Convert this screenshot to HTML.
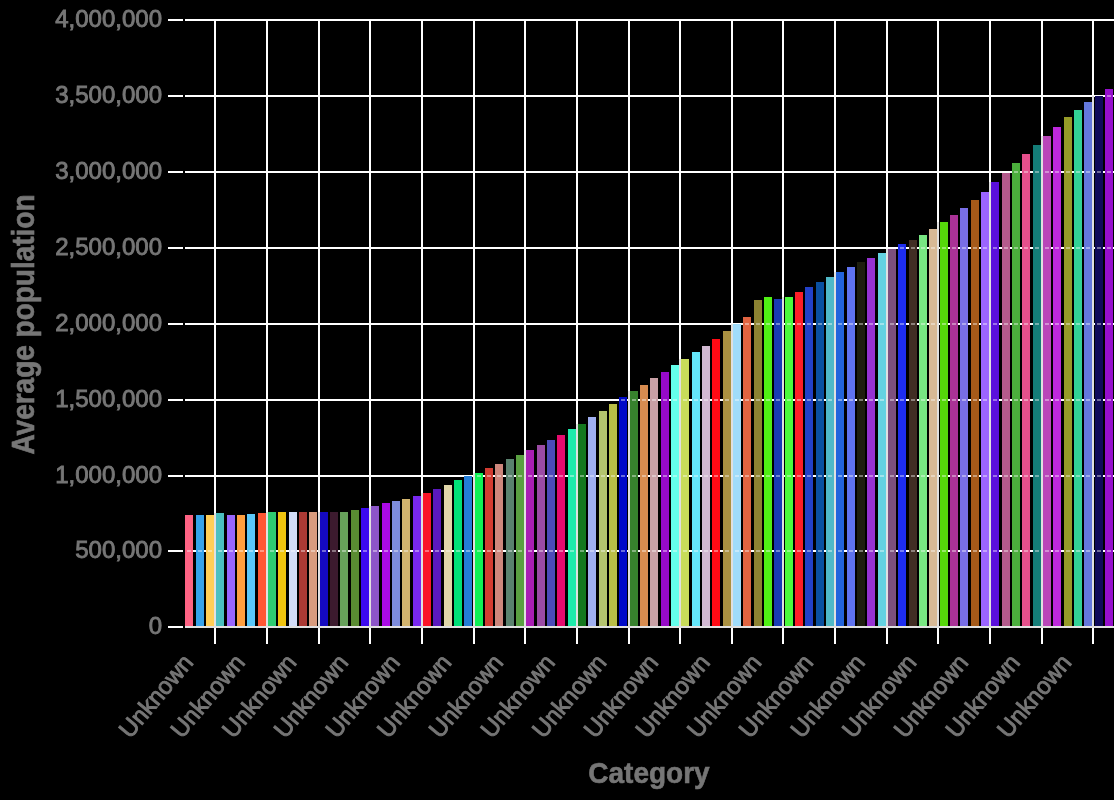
<!DOCTYPE html>
<html><head><meta charset="utf-8"><style>
html,body{margin:0;padding:0;background:#000;}
svg{display:block;}
text{font-family:"Liberation Sans",sans-serif;}
svg{will-change:transform;}
.lb{stroke:#767676;stroke-width:0.9;}
.tt{stroke:#767676;stroke-width:0.6;}
</style></head><body>
<svg width="1114" height="800" viewBox="0 0 1114 800">
<rect x="0" y="0" width="1114" height="800" fill="#000"/>

<rect x="185" y="626" width="929" height="2" fill="#e1e1e1"/>
<rect x="168" y="626" width="15" height="2" fill="#fff"/>
<rect x="185" y="550" width="929" height="2" fill="#ffffff"/>
<rect x="168" y="550" width="15" height="2" fill="#fff"/>
<rect x="185" y="475" width="929" height="2" fill="#ffffff"/>
<rect x="168" y="475" width="15" height="2" fill="#fff"/>
<rect x="185" y="399" width="929" height="2" fill="#ffffff"/>
<rect x="168" y="399" width="15" height="2" fill="#fff"/>
<rect x="185" y="323" width="929" height="2" fill="#ffffff"/>
<rect x="168" y="323" width="15" height="2" fill="#fff"/>
<rect x="185" y="247" width="929" height="2" fill="#ffffff"/>
<rect x="168" y="247" width="15" height="2" fill="#fff"/>
<rect x="185" y="171" width="929" height="2" fill="#ffffff"/>
<rect x="168" y="171" width="15" height="2" fill="#fff"/>
<rect x="185" y="95" width="929" height="2" fill="#ffffff"/>
<rect x="168" y="95" width="15" height="2" fill="#fff"/>
<rect x="185" y="19" width="929" height="2" fill="#ffffff"/>
<rect x="168" y="19" width="15" height="2" fill="#fff"/>
<rect x="214" y="21" width="2" height="605" fill="#fff"/>
<rect x="214" y="628" width="2" height="16" fill="#fff"/>
<rect x="266" y="21" width="2" height="605" fill="#fff"/>
<rect x="266" y="628" width="2" height="16" fill="#fff"/>
<rect x="318" y="21" width="2" height="605" fill="#fff"/>
<rect x="318" y="628" width="2" height="16" fill="#fff"/>
<rect x="369" y="21" width="2" height="605" fill="#fff"/>
<rect x="369" y="628" width="2" height="16" fill="#fff"/>
<rect x="421" y="21" width="2" height="605" fill="#fff"/>
<rect x="421" y="628" width="2" height="16" fill="#fff"/>
<rect x="473" y="21" width="2" height="605" fill="#fff"/>
<rect x="473" y="628" width="2" height="16" fill="#fff"/>
<rect x="524" y="21" width="2" height="605" fill="#fff"/>
<rect x="524" y="628" width="2" height="16" fill="#fff"/>
<rect x="576" y="21" width="2" height="605" fill="#fff"/>
<rect x="576" y="628" width="2" height="16" fill="#fff"/>
<rect x="628" y="21" width="2" height="605" fill="#fff"/>
<rect x="628" y="628" width="2" height="16" fill="#fff"/>
<rect x="679" y="21" width="2" height="605" fill="#fff"/>
<rect x="679" y="628" width="2" height="16" fill="#fff"/>
<rect x="731" y="21" width="2" height="605" fill="#fff"/>
<rect x="731" y="628" width="2" height="16" fill="#fff"/>
<rect x="782" y="21" width="2" height="605" fill="#fff"/>
<rect x="782" y="628" width="2" height="16" fill="#fff"/>
<rect x="834" y="21" width="2" height="605" fill="#fff"/>
<rect x="834" y="628" width="2" height="16" fill="#fff"/>
<rect x="886" y="21" width="2" height="605" fill="#fff"/>
<rect x="886" y="628" width="2" height="16" fill="#fff"/>
<rect x="937" y="21" width="2" height="605" fill="#fff"/>
<rect x="937" y="628" width="2" height="16" fill="#fff"/>
<rect x="989" y="21" width="2" height="605" fill="#fff"/>
<rect x="989" y="628" width="2" height="16" fill="#fff"/>
<rect x="1041" y="21" width="2" height="605" fill="#fff"/>
<rect x="1041" y="628" width="2" height="16" fill="#fff"/>
<rect x="1092" y="21" width="2" height="605" fill="#fff"/>
<rect x="1092" y="628" width="2" height="16" fill="#fff"/>
<rect x="185" y="515" width="8" height="111" fill="#ff6384"/>
<rect x="196" y="515" width="8" height="111" fill="#36a2eb"/>
<rect x="206" y="515" width="8" height="111" fill="#ffce56"/>
<rect x="216" y="513" width="8" height="113" fill="#4bc0c0"/>
<rect x="227" y="515" width="8" height="111" fill="#9966ff"/>
<rect x="237" y="515" width="8" height="111" fill="#ff9f40"/>
<rect x="247" y="514" width="8" height="112" fill="#5ac8fa"/>
<rect x="258" y="513" width="8" height="113" fill="#ff5733"/>
<rect x="268" y="512" width="8" height="114" fill="#2ecc71"/>
<rect x="278" y="512" width="8" height="114" fill="#f1c40f"/>
<rect x="289" y="512" width="8" height="114" fill="#d4ddf8"/>
<rect x="299" y="512" width="8" height="114" fill="#ac3a34"/>
<rect x="309" y="512" width="8" height="114" fill="#d99c7e"/>
<rect x="320" y="512" width="8" height="114" fill="#1409c0"/>
<rect x="330" y="512" width="8" height="114" fill="#3c1a2e"/>
<rect x="340" y="512" width="8" height="114" fill="#66a05a"/>
<rect x="351" y="510" width="8" height="116" fill="#5a8c32"/>
<rect x="361" y="508" width="8" height="118" fill="#3c0af0"/>
<rect x="371" y="506" width="8" height="120" fill="#8c55c8"/>
<rect x="382" y="503" width="8" height="123" fill="#aa0ae6"/>
<rect x="392" y="501" width="8" height="125" fill="#7d8cdc"/>
<rect x="402" y="499" width="8" height="127" fill="#d2b46e"/>
<rect x="413" y="496" width="8" height="130" fill="#7828f0"/>
<rect x="423" y="493" width="8" height="133" fill="#fa1428"/>
<rect x="433" y="489" width="8" height="137" fill="#5a19be"/>
<rect x="444" y="485" width="8" height="141" fill="#e1d7aa"/>
<rect x="454" y="480" width="8" height="146" fill="#00e178"/>
<rect x="464" y="476" width="8" height="150" fill="#237dd7"/>
<rect x="475" y="473" width="8" height="153" fill="#0ff055"/>
<rect x="485" y="468" width="8" height="158" fill="#d23c32"/>
<rect x="495" y="464" width="8" height="162" fill="#cd877d"/>
<rect x="506" y="459" width="8" height="167" fill="#5a826e"/>
<rect x="516" y="455" width="8" height="171" fill="#5aa041"/>
<rect x="526" y="450" width="8" height="176" fill="#aa1eb4"/>
<rect x="537" y="445" width="8" height="181" fill="#9b4ba5"/>
<rect x="547" y="440" width="8" height="186" fill="#4b4bb9"/>
<rect x="557" y="435" width="8" height="191" fill="#e60a6e"/>
<rect x="568" y="429" width="8" height="197" fill="#1eebaa"/>
<rect x="578" y="424" width="8" height="202" fill="#14781e"/>
<rect x="588" y="417" width="8" height="209" fill="#a0aff0"/>
<rect x="599" y="411" width="8" height="215" fill="#b4c36e"/>
<rect x="609" y="404" width="8" height="222" fill="#b9be46"/>
<rect x="619" y="397" width="8" height="229" fill="#000ac8"/>
<rect x="630" y="391" width="8" height="235" fill="#37822d"/>
<rect x="640" y="385" width="8" height="241" fill="#d78c50"/>
<rect x="650" y="378" width="8" height="248" fill="#c8a0a5"/>
<rect x="661" y="372" width="8" height="254" fill="#960ac8"/>
<rect x="671" y="365" width="8" height="261" fill="#64ffeb"/>
<rect x="681" y="359" width="8" height="267" fill="#c8dc5a"/>
<rect x="692" y="352" width="8" height="274" fill="#64e6fa"/>
<rect x="702" y="346" width="8" height="280" fill="#d2b9d2"/>
<rect x="712" y="339" width="8" height="287" fill="#ff0a14"/>
<rect x="723" y="331" width="8" height="295" fill="#aa9141"/>
<rect x="733" y="324" width="8" height="302" fill="#a0dcfa"/>
<rect x="743" y="317" width="8" height="309" fill="#e16441"/>
<rect x="754" y="300" width="8" height="326" fill="#8c8232"/>
<rect x="764" y="297" width="8" height="329" fill="#50f014"/>
<rect x="774" y="299" width="8" height="327" fill="#193cb4"/>
<rect x="785" y="297" width="8" height="329" fill="#4bfa3c"/>
<rect x="795" y="292" width="8" height="334" fill="#ff1e28"/>
<rect x="805" y="287" width="8" height="339" fill="#2341c8"/>
<rect x="816" y="282" width="8" height="344" fill="#0a50a0"/>
<rect x="826" y="277" width="8" height="349" fill="#50b9c8"/>
<rect x="836" y="272" width="8" height="354" fill="#2364dc"/>
<rect x="847" y="267" width="8" height="359" fill="#5f73f0"/>
<rect x="857" y="262" width="8" height="364" fill="#1e1e0f"/>
<rect x="867" y="258" width="8" height="368" fill="#9632d2"/>
<rect x="878" y="253" width="8" height="373" fill="#64d2e1"/>
<rect x="888" y="249" width="8" height="377" fill="#7d507d"/>
<rect x="898" y="244" width="8" height="382" fill="#1e2df0"/>
<rect x="909" y="240" width="8" height="386" fill="#412d23"/>
<rect x="919" y="235" width="8" height="391" fill="#78e682"/>
<rect x="929" y="229" width="8" height="397" fill="#d7b996"/>
<rect x="940" y="222" width="8" height="404" fill="#55d70a"/>
<rect x="950" y="215" width="8" height="411" fill="#aa3296"/>
<rect x="960" y="208" width="8" height="418" fill="#786ee6"/>
<rect x="971" y="200" width="8" height="426" fill="#a55a19"/>
<rect x="981" y="192" width="8" height="434" fill="#9b64ff"/>
<rect x="991" y="182" width="8" height="444" fill="#5a0fdc"/>
<rect x="1002" y="173" width="8" height="453" fill="#b45a8c"/>
<rect x="1012" y="163" width="8" height="463" fill="#4baf3c"/>
<rect x="1022" y="154" width="8" height="472" fill="#e6508c"/>
<rect x="1033" y="145" width="8" height="481" fill="#147d78"/>
<rect x="1043" y="136" width="8" height="490" fill="#b946b9"/>
<rect x="1053" y="127" width="8" height="499" fill="#be28dc"/>
<rect x="1064" y="117" width="8" height="509" fill="#969b28"/>
<rect x="1074" y="110" width="8" height="516" fill="#32d296"/>
<rect x="1084" y="102" width="8" height="524" fill="#6478dc"/>
<rect x="1095" y="96" width="8" height="530" fill="#0f0a5a"/>
<rect x="1105" y="89" width="8" height="537" fill="#960fcd"/>
<rect x="187" y="550" width="4" height="2" fill="#fff" fill-opacity="0.4"/>
<rect x="198" y="550" width="4" height="2" fill="#fff" fill-opacity="0.4"/>
<rect x="208" y="550" width="4" height="2" fill="#fff" fill-opacity="0.4"/>
<rect x="218" y="550" width="4" height="2" fill="#fff" fill-opacity="0.4"/>
<rect x="229" y="550" width="4" height="2" fill="#fff" fill-opacity="0.4"/>
<rect x="239" y="550" width="4" height="2" fill="#fff" fill-opacity="0.4"/>
<rect x="249" y="550" width="4" height="2" fill="#fff" fill-opacity="0.4"/>
<rect x="260" y="550" width="4" height="2" fill="#fff" fill-opacity="0.4"/>
<rect x="270" y="550" width="4" height="2" fill="#fff" fill-opacity="0.4"/>
<rect x="280" y="550" width="4" height="2" fill="#fff" fill-opacity="0.4"/>
<rect x="291" y="550" width="4" height="2" fill="#fff" fill-opacity="0.4"/>
<rect x="301" y="550" width="4" height="2" fill="#fff" fill-opacity="0.4"/>
<rect x="311" y="550" width="4" height="2" fill="#fff" fill-opacity="0.4"/>
<rect x="322" y="550" width="4" height="2" fill="#fff" fill-opacity="0.4"/>
<rect x="332" y="550" width="4" height="2" fill="#fff" fill-opacity="0.4"/>
<rect x="342" y="550" width="4" height="2" fill="#fff" fill-opacity="0.4"/>
<rect x="353" y="550" width="4" height="2" fill="#fff" fill-opacity="0.4"/>
<rect x="363" y="550" width="4" height="2" fill="#fff" fill-opacity="0.4"/>
<rect x="373" y="550" width="4" height="2" fill="#fff" fill-opacity="0.4"/>
<rect x="384" y="550" width="4" height="2" fill="#fff" fill-opacity="0.4"/>
<rect x="394" y="550" width="4" height="2" fill="#fff" fill-opacity="0.4"/>
<rect x="404" y="550" width="4" height="2" fill="#fff" fill-opacity="0.4"/>
<rect x="415" y="550" width="4" height="2" fill="#fff" fill-opacity="0.4"/>
<rect x="425" y="550" width="4" height="2" fill="#fff" fill-opacity="0.4"/>
<rect x="435" y="550" width="4" height="2" fill="#fff" fill-opacity="0.4"/>
<rect x="446" y="550" width="4" height="2" fill="#fff" fill-opacity="0.4"/>
<rect x="456" y="550" width="4" height="2" fill="#fff" fill-opacity="0.4"/>
<rect x="466" y="550" width="4" height="2" fill="#fff" fill-opacity="0.4"/>
<rect x="477" y="550" width="4" height="2" fill="#fff" fill-opacity="0.4"/>
<rect x="477" y="475" width="4" height="2" fill="#fff" fill-opacity="0.4"/>
<rect x="487" y="550" width="4" height="2" fill="#fff" fill-opacity="0.4"/>
<rect x="487" y="475" width="4" height="2" fill="#fff" fill-opacity="0.4"/>
<rect x="497" y="550" width="4" height="2" fill="#fff" fill-opacity="0.4"/>
<rect x="497" y="475" width="4" height="2" fill="#fff" fill-opacity="0.4"/>
<rect x="508" y="550" width="4" height="2" fill="#fff" fill-opacity="0.4"/>
<rect x="508" y="475" width="4" height="2" fill="#fff" fill-opacity="0.4"/>
<rect x="518" y="550" width="4" height="2" fill="#fff" fill-opacity="0.4"/>
<rect x="518" y="475" width="4" height="2" fill="#fff" fill-opacity="0.4"/>
<rect x="528" y="550" width="4" height="2" fill="#fff" fill-opacity="0.4"/>
<rect x="528" y="475" width="4" height="2" fill="#fff" fill-opacity="0.4"/>
<rect x="539" y="550" width="4" height="2" fill="#fff" fill-opacity="0.4"/>
<rect x="539" y="475" width="4" height="2" fill="#fff" fill-opacity="0.4"/>
<rect x="549" y="550" width="4" height="2" fill="#fff" fill-opacity="0.4"/>
<rect x="549" y="475" width="4" height="2" fill="#fff" fill-opacity="0.4"/>
<rect x="559" y="550" width="4" height="2" fill="#fff" fill-opacity="0.4"/>
<rect x="559" y="475" width="4" height="2" fill="#fff" fill-opacity="0.4"/>
<rect x="570" y="550" width="4" height="2" fill="#fff" fill-opacity="0.4"/>
<rect x="570" y="475" width="4" height="2" fill="#fff" fill-opacity="0.4"/>
<rect x="580" y="550" width="4" height="2" fill="#fff" fill-opacity="0.4"/>
<rect x="580" y="475" width="4" height="2" fill="#fff" fill-opacity="0.4"/>
<rect x="590" y="550" width="4" height="2" fill="#fff" fill-opacity="0.4"/>
<rect x="590" y="475" width="4" height="2" fill="#fff" fill-opacity="0.4"/>
<rect x="601" y="550" width="4" height="2" fill="#fff" fill-opacity="0.4"/>
<rect x="601" y="475" width="4" height="2" fill="#fff" fill-opacity="0.4"/>
<rect x="611" y="550" width="4" height="2" fill="#fff" fill-opacity="0.4"/>
<rect x="611" y="475" width="4" height="2" fill="#fff" fill-opacity="0.4"/>
<rect x="621" y="550" width="4" height="2" fill="#fff" fill-opacity="0.4"/>
<rect x="621" y="475" width="4" height="2" fill="#fff" fill-opacity="0.4"/>
<rect x="621" y="399" width="4" height="2" fill="#fff" fill-opacity="0.4"/>
<rect x="632" y="550" width="4" height="2" fill="#fff" fill-opacity="0.4"/>
<rect x="632" y="475" width="4" height="2" fill="#fff" fill-opacity="0.4"/>
<rect x="632" y="399" width="4" height="2" fill="#fff" fill-opacity="0.4"/>
<rect x="642" y="550" width="4" height="2" fill="#fff" fill-opacity="0.4"/>
<rect x="642" y="475" width="4" height="2" fill="#fff" fill-opacity="0.4"/>
<rect x="642" y="399" width="4" height="2" fill="#fff" fill-opacity="0.4"/>
<rect x="652" y="550" width="4" height="2" fill="#fff" fill-opacity="0.4"/>
<rect x="652" y="475" width="4" height="2" fill="#fff" fill-opacity="0.4"/>
<rect x="652" y="399" width="4" height="2" fill="#fff" fill-opacity="0.4"/>
<rect x="663" y="550" width="4" height="2" fill="#fff" fill-opacity="0.4"/>
<rect x="663" y="475" width="4" height="2" fill="#fff" fill-opacity="0.4"/>
<rect x="663" y="399" width="4" height="2" fill="#fff" fill-opacity="0.4"/>
<rect x="673" y="550" width="4" height="2" fill="#fff" fill-opacity="0.4"/>
<rect x="673" y="475" width="4" height="2" fill="#fff" fill-opacity="0.4"/>
<rect x="673" y="399" width="4" height="2" fill="#fff" fill-opacity="0.4"/>
<rect x="683" y="550" width="4" height="2" fill="#fff" fill-opacity="0.4"/>
<rect x="683" y="475" width="4" height="2" fill="#fff" fill-opacity="0.4"/>
<rect x="683" y="399" width="4" height="2" fill="#fff" fill-opacity="0.4"/>
<rect x="694" y="550" width="4" height="2" fill="#fff" fill-opacity="0.4"/>
<rect x="694" y="475" width="4" height="2" fill="#fff" fill-opacity="0.4"/>
<rect x="694" y="399" width="4" height="2" fill="#fff" fill-opacity="0.4"/>
<rect x="704" y="550" width="4" height="2" fill="#fff" fill-opacity="0.4"/>
<rect x="704" y="475" width="4" height="2" fill="#fff" fill-opacity="0.4"/>
<rect x="704" y="399" width="4" height="2" fill="#fff" fill-opacity="0.4"/>
<rect x="714" y="550" width="4" height="2" fill="#fff" fill-opacity="0.4"/>
<rect x="714" y="475" width="4" height="2" fill="#fff" fill-opacity="0.4"/>
<rect x="714" y="399" width="4" height="2" fill="#fff" fill-opacity="0.4"/>
<rect x="725" y="550" width="4" height="2" fill="#fff" fill-opacity="0.4"/>
<rect x="725" y="475" width="4" height="2" fill="#fff" fill-opacity="0.4"/>
<rect x="725" y="399" width="4" height="2" fill="#fff" fill-opacity="0.4"/>
<rect x="735" y="550" width="4" height="2" fill="#fff" fill-opacity="0.4"/>
<rect x="735" y="475" width="4" height="2" fill="#fff" fill-opacity="0.4"/>
<rect x="735" y="399" width="4" height="2" fill="#fff" fill-opacity="0.4"/>
<rect x="745" y="550" width="4" height="2" fill="#fff" fill-opacity="0.4"/>
<rect x="745" y="475" width="4" height="2" fill="#fff" fill-opacity="0.4"/>
<rect x="745" y="399" width="4" height="2" fill="#fff" fill-opacity="0.4"/>
<rect x="745" y="323" width="4" height="2" fill="#fff" fill-opacity="0.4"/>
<rect x="756" y="550" width="4" height="2" fill="#fff" fill-opacity="0.4"/>
<rect x="756" y="475" width="4" height="2" fill="#fff" fill-opacity="0.4"/>
<rect x="756" y="399" width="4" height="2" fill="#fff" fill-opacity="0.4"/>
<rect x="756" y="323" width="4" height="2" fill="#fff" fill-opacity="0.4"/>
<rect x="766" y="550" width="4" height="2" fill="#fff" fill-opacity="0.4"/>
<rect x="766" y="475" width="4" height="2" fill="#fff" fill-opacity="0.4"/>
<rect x="766" y="399" width="4" height="2" fill="#fff" fill-opacity="0.4"/>
<rect x="766" y="323" width="4" height="2" fill="#fff" fill-opacity="0.4"/>
<rect x="776" y="550" width="4" height="2" fill="#fff" fill-opacity="0.4"/>
<rect x="776" y="475" width="4" height="2" fill="#fff" fill-opacity="0.4"/>
<rect x="776" y="399" width="4" height="2" fill="#fff" fill-opacity="0.4"/>
<rect x="776" y="323" width="4" height="2" fill="#fff" fill-opacity="0.4"/>
<rect x="787" y="550" width="4" height="2" fill="#fff" fill-opacity="0.4"/>
<rect x="787" y="475" width="4" height="2" fill="#fff" fill-opacity="0.4"/>
<rect x="787" y="399" width="4" height="2" fill="#fff" fill-opacity="0.4"/>
<rect x="787" y="323" width="4" height="2" fill="#fff" fill-opacity="0.4"/>
<rect x="797" y="550" width="4" height="2" fill="#fff" fill-opacity="0.4"/>
<rect x="797" y="475" width="4" height="2" fill="#fff" fill-opacity="0.4"/>
<rect x="797" y="399" width="4" height="2" fill="#fff" fill-opacity="0.4"/>
<rect x="797" y="323" width="4" height="2" fill="#fff" fill-opacity="0.4"/>
<rect x="807" y="550" width="4" height="2" fill="#fff" fill-opacity="0.4"/>
<rect x="807" y="475" width="4" height="2" fill="#fff" fill-opacity="0.4"/>
<rect x="807" y="399" width="4" height="2" fill="#fff" fill-opacity="0.4"/>
<rect x="807" y="323" width="4" height="2" fill="#fff" fill-opacity="0.4"/>
<rect x="818" y="550" width="4" height="2" fill="#fff" fill-opacity="0.4"/>
<rect x="818" y="475" width="4" height="2" fill="#fff" fill-opacity="0.4"/>
<rect x="818" y="399" width="4" height="2" fill="#fff" fill-opacity="0.4"/>
<rect x="818" y="323" width="4" height="2" fill="#fff" fill-opacity="0.4"/>
<rect x="828" y="550" width="4" height="2" fill="#fff" fill-opacity="0.4"/>
<rect x="828" y="475" width="4" height="2" fill="#fff" fill-opacity="0.4"/>
<rect x="828" y="399" width="4" height="2" fill="#fff" fill-opacity="0.4"/>
<rect x="828" y="323" width="4" height="2" fill="#fff" fill-opacity="0.4"/>
<rect x="838" y="550" width="4" height="2" fill="#fff" fill-opacity="0.4"/>
<rect x="838" y="475" width="4" height="2" fill="#fff" fill-opacity="0.4"/>
<rect x="838" y="399" width="4" height="2" fill="#fff" fill-opacity="0.4"/>
<rect x="838" y="323" width="4" height="2" fill="#fff" fill-opacity="0.4"/>
<rect x="849" y="550" width="4" height="2" fill="#fff" fill-opacity="0.4"/>
<rect x="849" y="475" width="4" height="2" fill="#fff" fill-opacity="0.4"/>
<rect x="849" y="399" width="4" height="2" fill="#fff" fill-opacity="0.4"/>
<rect x="849" y="323" width="4" height="2" fill="#fff" fill-opacity="0.4"/>
<rect x="859" y="550" width="4" height="2" fill="#fff" fill-opacity="0.4"/>
<rect x="859" y="475" width="4" height="2" fill="#fff" fill-opacity="0.4"/>
<rect x="859" y="399" width="4" height="2" fill="#fff" fill-opacity="0.4"/>
<rect x="859" y="323" width="4" height="2" fill="#fff" fill-opacity="0.4"/>
<rect x="869" y="550" width="4" height="2" fill="#fff" fill-opacity="0.4"/>
<rect x="869" y="475" width="4" height="2" fill="#fff" fill-opacity="0.4"/>
<rect x="869" y="399" width="4" height="2" fill="#fff" fill-opacity="0.4"/>
<rect x="869" y="323" width="4" height="2" fill="#fff" fill-opacity="0.4"/>
<rect x="880" y="550" width="4" height="2" fill="#fff" fill-opacity="0.4"/>
<rect x="880" y="475" width="4" height="2" fill="#fff" fill-opacity="0.4"/>
<rect x="880" y="399" width="4" height="2" fill="#fff" fill-opacity="0.4"/>
<rect x="880" y="323" width="4" height="2" fill="#fff" fill-opacity="0.4"/>
<rect x="890" y="550" width="4" height="2" fill="#fff" fill-opacity="0.4"/>
<rect x="890" y="475" width="4" height="2" fill="#fff" fill-opacity="0.4"/>
<rect x="890" y="399" width="4" height="2" fill="#fff" fill-opacity="0.4"/>
<rect x="890" y="323" width="4" height="2" fill="#fff" fill-opacity="0.4"/>
<rect x="900" y="550" width="4" height="2" fill="#fff" fill-opacity="0.4"/>
<rect x="900" y="475" width="4" height="2" fill="#fff" fill-opacity="0.4"/>
<rect x="900" y="399" width="4" height="2" fill="#fff" fill-opacity="0.4"/>
<rect x="900" y="323" width="4" height="2" fill="#fff" fill-opacity="0.4"/>
<rect x="900" y="247" width="4" height="2" fill="#fff" fill-opacity="0.4"/>
<rect x="911" y="550" width="4" height="2" fill="#fff" fill-opacity="0.4"/>
<rect x="911" y="475" width="4" height="2" fill="#fff" fill-opacity="0.4"/>
<rect x="911" y="399" width="4" height="2" fill="#fff" fill-opacity="0.4"/>
<rect x="911" y="323" width="4" height="2" fill="#fff" fill-opacity="0.4"/>
<rect x="911" y="247" width="4" height="2" fill="#fff" fill-opacity="0.4"/>
<rect x="921" y="550" width="4" height="2" fill="#fff" fill-opacity="0.4"/>
<rect x="921" y="475" width="4" height="2" fill="#fff" fill-opacity="0.4"/>
<rect x="921" y="399" width="4" height="2" fill="#fff" fill-opacity="0.4"/>
<rect x="921" y="323" width="4" height="2" fill="#fff" fill-opacity="0.4"/>
<rect x="921" y="247" width="4" height="2" fill="#fff" fill-opacity="0.4"/>
<rect x="931" y="550" width="4" height="2" fill="#fff" fill-opacity="0.4"/>
<rect x="931" y="475" width="4" height="2" fill="#fff" fill-opacity="0.4"/>
<rect x="931" y="399" width="4" height="2" fill="#fff" fill-opacity="0.4"/>
<rect x="931" y="323" width="4" height="2" fill="#fff" fill-opacity="0.4"/>
<rect x="931" y="247" width="4" height="2" fill="#fff" fill-opacity="0.4"/>
<rect x="942" y="550" width="4" height="2" fill="#fff" fill-opacity="0.4"/>
<rect x="942" y="475" width="4" height="2" fill="#fff" fill-opacity="0.4"/>
<rect x="942" y="399" width="4" height="2" fill="#fff" fill-opacity="0.4"/>
<rect x="942" y="323" width="4" height="2" fill="#fff" fill-opacity="0.4"/>
<rect x="942" y="247" width="4" height="2" fill="#fff" fill-opacity="0.4"/>
<rect x="952" y="550" width="4" height="2" fill="#fff" fill-opacity="0.4"/>
<rect x="952" y="475" width="4" height="2" fill="#fff" fill-opacity="0.4"/>
<rect x="952" y="399" width="4" height="2" fill="#fff" fill-opacity="0.4"/>
<rect x="952" y="323" width="4" height="2" fill="#fff" fill-opacity="0.4"/>
<rect x="952" y="247" width="4" height="2" fill="#fff" fill-opacity="0.4"/>
<rect x="962" y="550" width="4" height="2" fill="#fff" fill-opacity="0.4"/>
<rect x="962" y="475" width="4" height="2" fill="#fff" fill-opacity="0.4"/>
<rect x="962" y="399" width="4" height="2" fill="#fff" fill-opacity="0.4"/>
<rect x="962" y="323" width="4" height="2" fill="#fff" fill-opacity="0.4"/>
<rect x="962" y="247" width="4" height="2" fill="#fff" fill-opacity="0.4"/>
<rect x="973" y="550" width="4" height="2" fill="#fff" fill-opacity="0.4"/>
<rect x="973" y="475" width="4" height="2" fill="#fff" fill-opacity="0.4"/>
<rect x="973" y="399" width="4" height="2" fill="#fff" fill-opacity="0.4"/>
<rect x="973" y="323" width="4" height="2" fill="#fff" fill-opacity="0.4"/>
<rect x="973" y="247" width="4" height="2" fill="#fff" fill-opacity="0.4"/>
<rect x="983" y="550" width="4" height="2" fill="#fff" fill-opacity="0.4"/>
<rect x="983" y="475" width="4" height="2" fill="#fff" fill-opacity="0.4"/>
<rect x="983" y="399" width="4" height="2" fill="#fff" fill-opacity="0.4"/>
<rect x="983" y="323" width="4" height="2" fill="#fff" fill-opacity="0.4"/>
<rect x="983" y="247" width="4" height="2" fill="#fff" fill-opacity="0.4"/>
<rect x="993" y="550" width="4" height="2" fill="#fff" fill-opacity="0.4"/>
<rect x="993" y="475" width="4" height="2" fill="#fff" fill-opacity="0.4"/>
<rect x="993" y="399" width="4" height="2" fill="#fff" fill-opacity="0.4"/>
<rect x="993" y="323" width="4" height="2" fill="#fff" fill-opacity="0.4"/>
<rect x="993" y="247" width="4" height="2" fill="#fff" fill-opacity="0.4"/>
<rect x="1004" y="550" width="4" height="2" fill="#fff" fill-opacity="0.4"/>
<rect x="1004" y="475" width="4" height="2" fill="#fff" fill-opacity="0.4"/>
<rect x="1004" y="399" width="4" height="2" fill="#fff" fill-opacity="0.4"/>
<rect x="1004" y="323" width="4" height="2" fill="#fff" fill-opacity="0.4"/>
<rect x="1004" y="247" width="4" height="2" fill="#fff" fill-opacity="0.4"/>
<rect x="1014" y="550" width="4" height="2" fill="#fff" fill-opacity="0.4"/>
<rect x="1014" y="475" width="4" height="2" fill="#fff" fill-opacity="0.4"/>
<rect x="1014" y="399" width="4" height="2" fill="#fff" fill-opacity="0.4"/>
<rect x="1014" y="323" width="4" height="2" fill="#fff" fill-opacity="0.4"/>
<rect x="1014" y="247" width="4" height="2" fill="#fff" fill-opacity="0.4"/>
<rect x="1014" y="171" width="4" height="2" fill="#fff" fill-opacity="0.4"/>
<rect x="1024" y="550" width="4" height="2" fill="#fff" fill-opacity="0.4"/>
<rect x="1024" y="475" width="4" height="2" fill="#fff" fill-opacity="0.4"/>
<rect x="1024" y="399" width="4" height="2" fill="#fff" fill-opacity="0.4"/>
<rect x="1024" y="323" width="4" height="2" fill="#fff" fill-opacity="0.4"/>
<rect x="1024" y="247" width="4" height="2" fill="#fff" fill-opacity="0.4"/>
<rect x="1024" y="171" width="4" height="2" fill="#fff" fill-opacity="0.4"/>
<rect x="1035" y="550" width="4" height="2" fill="#fff" fill-opacity="0.4"/>
<rect x="1035" y="475" width="4" height="2" fill="#fff" fill-opacity="0.4"/>
<rect x="1035" y="399" width="4" height="2" fill="#fff" fill-opacity="0.4"/>
<rect x="1035" y="323" width="4" height="2" fill="#fff" fill-opacity="0.4"/>
<rect x="1035" y="247" width="4" height="2" fill="#fff" fill-opacity="0.4"/>
<rect x="1035" y="171" width="4" height="2" fill="#fff" fill-opacity="0.4"/>
<rect x="1045" y="550" width="4" height="2" fill="#fff" fill-opacity="0.4"/>
<rect x="1045" y="475" width="4" height="2" fill="#fff" fill-opacity="0.4"/>
<rect x="1045" y="399" width="4" height="2" fill="#fff" fill-opacity="0.4"/>
<rect x="1045" y="323" width="4" height="2" fill="#fff" fill-opacity="0.4"/>
<rect x="1045" y="247" width="4" height="2" fill="#fff" fill-opacity="0.4"/>
<rect x="1045" y="171" width="4" height="2" fill="#fff" fill-opacity="0.4"/>
<rect x="1055" y="550" width="4" height="2" fill="#fff" fill-opacity="0.4"/>
<rect x="1055" y="475" width="4" height="2" fill="#fff" fill-opacity="0.4"/>
<rect x="1055" y="399" width="4" height="2" fill="#fff" fill-opacity="0.4"/>
<rect x="1055" y="323" width="4" height="2" fill="#fff" fill-opacity="0.4"/>
<rect x="1055" y="247" width="4" height="2" fill="#fff" fill-opacity="0.4"/>
<rect x="1055" y="171" width="4" height="2" fill="#fff" fill-opacity="0.4"/>
<rect x="1066" y="550" width="4" height="2" fill="#fff" fill-opacity="0.4"/>
<rect x="1066" y="475" width="4" height="2" fill="#fff" fill-opacity="0.4"/>
<rect x="1066" y="399" width="4" height="2" fill="#fff" fill-opacity="0.4"/>
<rect x="1066" y="323" width="4" height="2" fill="#fff" fill-opacity="0.4"/>
<rect x="1066" y="247" width="4" height="2" fill="#fff" fill-opacity="0.4"/>
<rect x="1066" y="171" width="4" height="2" fill="#fff" fill-opacity="0.4"/>
<rect x="1076" y="550" width="4" height="2" fill="#fff" fill-opacity="0.4"/>
<rect x="1076" y="475" width="4" height="2" fill="#fff" fill-opacity="0.4"/>
<rect x="1076" y="399" width="4" height="2" fill="#fff" fill-opacity="0.4"/>
<rect x="1076" y="323" width="4" height="2" fill="#fff" fill-opacity="0.4"/>
<rect x="1076" y="247" width="4" height="2" fill="#fff" fill-opacity="0.4"/>
<rect x="1076" y="171" width="4" height="2" fill="#fff" fill-opacity="0.4"/>
<rect x="1086" y="550" width="4" height="2" fill="#fff" fill-opacity="0.4"/>
<rect x="1086" y="475" width="4" height="2" fill="#fff" fill-opacity="0.4"/>
<rect x="1086" y="399" width="4" height="2" fill="#fff" fill-opacity="0.4"/>
<rect x="1086" y="323" width="4" height="2" fill="#fff" fill-opacity="0.4"/>
<rect x="1086" y="247" width="4" height="2" fill="#fff" fill-opacity="0.4"/>
<rect x="1086" y="171" width="4" height="2" fill="#fff" fill-opacity="0.4"/>
<rect x="1097" y="550" width="4" height="2" fill="#fff" fill-opacity="0.4"/>
<rect x="1097" y="475" width="4" height="2" fill="#fff" fill-opacity="0.4"/>
<rect x="1097" y="399" width="4" height="2" fill="#fff" fill-opacity="0.4"/>
<rect x="1097" y="323" width="4" height="2" fill="#fff" fill-opacity="0.4"/>
<rect x="1097" y="247" width="4" height="2" fill="#fff" fill-opacity="0.4"/>
<rect x="1097" y="171" width="4" height="2" fill="#fff" fill-opacity="0.4"/>
<rect x="1107" y="550" width="4" height="2" fill="#fff" fill-opacity="0.4"/>
<rect x="1107" y="475" width="4" height="2" fill="#fff" fill-opacity="0.4"/>
<rect x="1107" y="399" width="4" height="2" fill="#fff" fill-opacity="0.4"/>
<rect x="1107" y="323" width="4" height="2" fill="#fff" fill-opacity="0.4"/>
<rect x="1107" y="247" width="4" height="2" fill="#fff" fill-opacity="0.4"/>
<rect x="1107" y="171" width="4" height="2" fill="#fff" fill-opacity="0.4"/>
<rect x="1107" y="95" width="4" height="2" fill="#fff" fill-opacity="0.4"/>
<rect x="214" y="513" width="2" height="113" fill="#000" fill-opacity="0.12"/>
<rect x="266" y="512" width="2" height="114" fill="#000" fill-opacity="0.12"/>
<rect x="318" y="512" width="2" height="114" fill="#000" fill-opacity="0.12"/>
<rect x="369" y="506" width="2" height="120" fill="#000" fill-opacity="0.12"/>
<rect x="421" y="493" width="2" height="133" fill="#000" fill-opacity="0.12"/>
<rect x="473" y="473" width="2" height="153" fill="#000" fill-opacity="0.12"/>
<rect x="524" y="450" width="2" height="176" fill="#000" fill-opacity="0.12"/>
<rect x="576" y="424" width="2" height="202" fill="#000" fill-opacity="0.12"/>
<rect x="628" y="391" width="2" height="235" fill="#000" fill-opacity="0.12"/>
<rect x="679" y="359" width="2" height="267" fill="#000" fill-opacity="0.12"/>
<rect x="731" y="324" width="2" height="302" fill="#000" fill-opacity="0.12"/>
<rect x="782" y="297" width="2" height="329" fill="#000" fill-opacity="0.12"/>
<rect x="834" y="272" width="2" height="354" fill="#000" fill-opacity="0.12"/>
<rect x="886" y="249" width="2" height="377" fill="#000" fill-opacity="0.12"/>
<rect x="937" y="222" width="2" height="404" fill="#000" fill-opacity="0.12"/>
<rect x="989" y="182" width="2" height="444" fill="#000" fill-opacity="0.12"/>
<rect x="1041" y="136" width="2" height="490" fill="#000" fill-opacity="0.12"/>
<rect x="1092" y="96" width="2" height="530" fill="#000" fill-opacity="0.12"/>
<text x="162" y="626.00" dy="0.32em" text-anchor="end" class="lb" font-size="24" fill="#767676">0</text>
<text x="162" y="550.00" dy="0.32em" text-anchor="end" class="lb" font-size="24" fill="#767676">500,000</text>
<text x="162" y="475.00" dy="0.32em" text-anchor="end" class="lb" font-size="24" fill="#767676">1,000,000</text>
<text x="162" y="399.00" dy="0.32em" text-anchor="end" class="lb" font-size="24" fill="#767676">1,500,000</text>
<text x="162" y="323.00" dy="0.32em" text-anchor="end" class="lb" font-size="24" fill="#767676">2,000,000</text>
<text x="162" y="247.00" dy="0.32em" text-anchor="end" class="lb" font-size="24" fill="#767676">2,500,000</text>
<text x="162" y="171.00" dy="0.32em" text-anchor="end" class="lb" font-size="24" fill="#767676">3,000,000</text>
<text x="162" y="95.00" dy="0.32em" text-anchor="end" class="lb" font-size="24" fill="#767676">3,500,000</text>
<text x="162" y="19.00" dy="0.32em" text-anchor="end" class="lb" font-size="24" fill="#767676">4,000,000</text>
<text transform="translate(188.47,658.00) rotate(-50)" x="0" y="0" dy="0.32em" text-anchor="end" class="lb" font-size="24" fill="#767676">Unknown</text>
<text transform="translate(240.14,658.00) rotate(-50)" x="0" y="0" dy="0.32em" text-anchor="end" class="lb" font-size="24" fill="#767676">Unknown</text>
<text transform="translate(291.80,658.00) rotate(-50)" x="0" y="0" dy="0.32em" text-anchor="end" class="lb" font-size="24" fill="#767676">Unknown</text>
<text transform="translate(343.47,658.00) rotate(-50)" x="0" y="0" dy="0.32em" text-anchor="end" class="lb" font-size="24" fill="#767676">Unknown</text>
<text transform="translate(395.14,658.00) rotate(-50)" x="0" y="0" dy="0.32em" text-anchor="end" class="lb" font-size="24" fill="#767676">Unknown</text>
<text transform="translate(446.80,658.00) rotate(-50)" x="0" y="0" dy="0.32em" text-anchor="end" class="lb" font-size="24" fill="#767676">Unknown</text>
<text transform="translate(498.47,658.00) rotate(-50)" x="0" y="0" dy="0.32em" text-anchor="end" class="lb" font-size="24" fill="#767676">Unknown</text>
<text transform="translate(550.14,658.00) rotate(-50)" x="0" y="0" dy="0.32em" text-anchor="end" class="lb" font-size="24" fill="#767676">Unknown</text>
<text transform="translate(601.80,658.00) rotate(-50)" x="0" y="0" dy="0.32em" text-anchor="end" class="lb" font-size="24" fill="#767676">Unknown</text>
<text transform="translate(653.47,658.00) rotate(-50)" x="0" y="0" dy="0.32em" text-anchor="end" class="lb" font-size="24" fill="#767676">Unknown</text>
<text transform="translate(705.14,658.00) rotate(-50)" x="0" y="0" dy="0.32em" text-anchor="end" class="lb" font-size="24" fill="#767676">Unknown</text>
<text transform="translate(756.80,658.00) rotate(-50)" x="0" y="0" dy="0.32em" text-anchor="end" class="lb" font-size="24" fill="#767676">Unknown</text>
<text transform="translate(808.47,658.00) rotate(-50)" x="0" y="0" dy="0.32em" text-anchor="end" class="lb" font-size="24" fill="#767676">Unknown</text>
<text transform="translate(860.14,658.00) rotate(-50)" x="0" y="0" dy="0.32em" text-anchor="end" class="lb" font-size="24" fill="#767676">Unknown</text>
<text transform="translate(911.80,658.00) rotate(-50)" x="0" y="0" dy="0.32em" text-anchor="end" class="lb" font-size="24" fill="#767676">Unknown</text>
<text transform="translate(963.47,658.00) rotate(-50)" x="0" y="0" dy="0.32em" text-anchor="end" class="lb" font-size="24" fill="#767676">Unknown</text>
<text transform="translate(1015.14,658.00) rotate(-50)" x="0" y="0" dy="0.32em" text-anchor="end" class="lb" font-size="24" fill="#767676">Unknown</text>
<text transform="translate(1066.80,658.00) rotate(-50)" x="0" y="0" dy="0.32em" text-anchor="end" class="lb" font-size="24" fill="#767676">Unknown</text>
<text transform="translate(649,783) scale(1,1.08)" x="0" y="0" text-anchor="middle" class="tt" font-size="28" font-weight="bold" fill="#767676">Category</text>
<text transform="translate(34.2,324.5) rotate(-90) scale(1.0,1.09)" x="0" y="0" text-anchor="middle" class="tt" font-size="28" font-weight="bold" fill="#767676">Average population</text>
</svg></body></html>
